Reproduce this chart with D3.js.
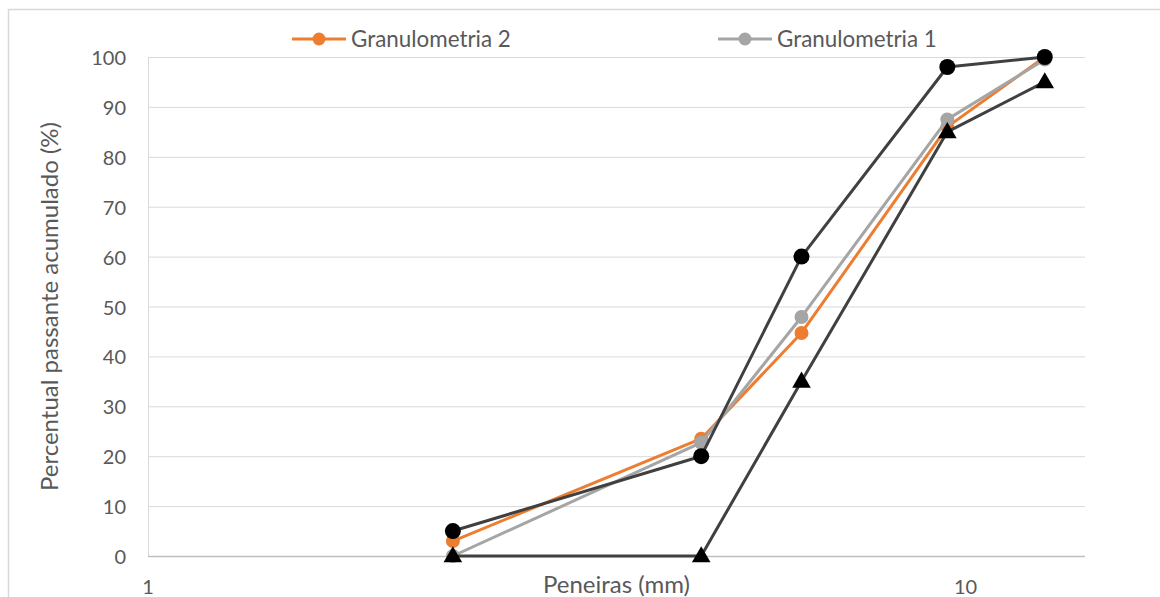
<!DOCTYPE html>
<html>
<head>
<meta charset="utf-8">
<script src="https://cdn.jsdelivr.net/npm/d3@7"></script>
<style>
  body { margin: 0; background: #fff; }
  svg text { font-family: Lato, "Open Sans", sans-serif; fill: #595959; }
</style>
</head>
<body>
<div id="chart"></div>
<script>
// sieve openings (mm)
const sieves = [2.36, 4.75, 6.3, 9.5, 12.5];

// percent passing
const granulometria2 = [3, 23.5, 44.7, 86, 100];
const granulometria1 = [0, 22.7, 47.9, 87.5, 99.5];
const upperLimit = [5, 20, 60, 98, 100];
const lowerLimit = [0, 0, 35, 85, 95];

const yTicks = [0, 10, 20, 30, 40, 50, 60, 70, 80, 90, 100];
const xTicks = [1, 10];

const width = 1160, height = 597;
const plot = { left: 148, right: 1085, top: 57, bottom: 556 };

const svg = d3.select('#chart').append('svg')
    .attr('width', width)
    .attr('height', height);

// chart border (only top and left are visible in the crop)
svg.append('path')
    .attr('d', `M8.5,${height} V9.5 H${width}`)
    .attr('fill', 'none')
    .attr('stroke', '#d9d9d9')
    .attr('stroke-width', 1.5);

const x = d3.scaleLog().domain([1, 14]).range([plot.left, plot.right]);
const y = d3.scaleLinear().domain([0, 100]).range([plot.bottom, plot.top]);

// gridlines
svg.append('g')
    .selectAll('line')
    .data(yTicks.filter(d => d > 0))
    .enter().append('line')
    .attr('x1', plot.left).attr('x2', plot.right)
    .attr('y1', d => y(d) + 0.5).attr('y2', d => y(d) + 0.5)
    .attr('stroke', '#d9d9d9')
    .attr('stroke-width', 1);

// axis lines
svg.append('line')
    .attr('x1', plot.left + 0.5).attr('x2', plot.left + 0.5)
    .attr('y1', plot.top).attr('y2', plot.bottom)
    .attr('stroke', '#d9d9d9');
svg.append('line')
    .attr('x1', plot.left).attr('x2', plot.right)
    .attr('y1', plot.bottom + 0.5).attr('y2', plot.bottom + 0.5)
    .attr('stroke', '#bfbfbf')
    .attr('stroke-width', 1.5);

// y tick labels
svg.append('g')
    .selectAll('text')
    .data(yTicks)
    .enter().append('text')
    .attr('x', 126)
    .attr('y', d => y(d) + 1)
    .attr('dy', '0.35em')
    .attr('text-anchor', 'end')
    .style('font-size', '20px')
    .text(d => d);

// x tick labels
svg.append('g')
    .selectAll('text')
    .data(xTicks)
    .enter().append('text')
    .attr('x', d => x(d))
    .attr('y', 594)
    .attr('text-anchor', 'middle')
    .style('font-size', '20px')
    .text(d => d);

// axis titles
svg.append('text')
    .attr('x', (plot.left + plot.right) / 2)
    .attr('y', 593)
    .attr('text-anchor', 'middle')
    .style('font-size', '24px')
    .text('Peneiras (mm)');

svg.append('text')
    .attr('transform', `translate(58,${(plot.top + plot.bottom) / 2}) rotate(-90)`)
    .attr('text-anchor', 'middle')
    .style('font-size', '24px')
    .text('Percentual passante acumulado (%)');

// series, drawn bottom to top
const series = [
    { name: 'Granulometria 2', values: granulometria2, color: '#ed7d31', marker: 'circle', markerColor: '#ed7d31', r: 7 },
    { name: 'Granulometria 1', values: granulometria1, color: '#a5a5a5', marker: 'circle', markerColor: '#a5a5a5', r: 7 },
    { name: 'Limite superior', values: upperLimit, color: '#404040', marker: 'circle', markerColor: '#000', r: 8 },
    { name: 'Limite inferior', values: lowerLimit, color: '#404040', marker: 'triangle', markerColor: '#000', r: 8 }
];

const line = d3.line()
    .x(d => x(d[0]))
    .y(d => y(d[1]));

const triangle = d3.symbol().type(d3.symbolTriangle).size(150);

series.forEach(s => {
    const pts = sieves.map((v, i) => [v, s.values[i]]);
    const g = svg.append('g');
    g.append('path')
        .datum(pts)
        .attr('d', line)
        .attr('fill', 'none')
        .attr('stroke', s.color)
        .attr('stroke-width', 3)
        .attr('stroke-linejoin', 'round');
    if (s.marker === 'circle') {
        g.selectAll('circle')
            .data(pts)
            .enter().append('circle')
            .attr('cx', d => x(d[0]))
            .attr('cy', d => y(d[1]))
            .attr('r', s.r)
            .attr('fill', s.markerColor);
    } else {
        g.selectAll('path.mk')
            .data(pts)
            .enter().append('path')
            .attr('class', 'mk')
            .attr('d', triangle)
            .attr('transform', d => `translate(${x(d[0])},${y(d[1]) + 1})`)
            .attr('fill', s.markerColor);
    }
});

// legend (only the two sample series)
const legendItems = [
    { name: 'Granulometria 2', color: '#ed7d31', x: 292 },
    { name: 'Granulometria 1', color: '#a5a5a5', x: 718 }
];
const legend = svg.append('g')
    .selectAll('g')
    .data(legendItems)
    .enter().append('g')
    .attr('transform', d => `translate(${d.x},39)`);
legend.append('line')
    .attr('x1', 0).attr('x2', 54)
    .attr('stroke', d => d.color)
    .attr('stroke-width', 3);
legend.append('circle')
    .attr('cx', 27)
    .attr('r', 6.5)
    .attr('fill', d => d.color);
legend.append('text')
    .attr('x', 59)
    .attr('dy', '0.35em')
    .style('font-size', '22.4px')
    .text(d => d.name);
</script>
</body>
</html>
